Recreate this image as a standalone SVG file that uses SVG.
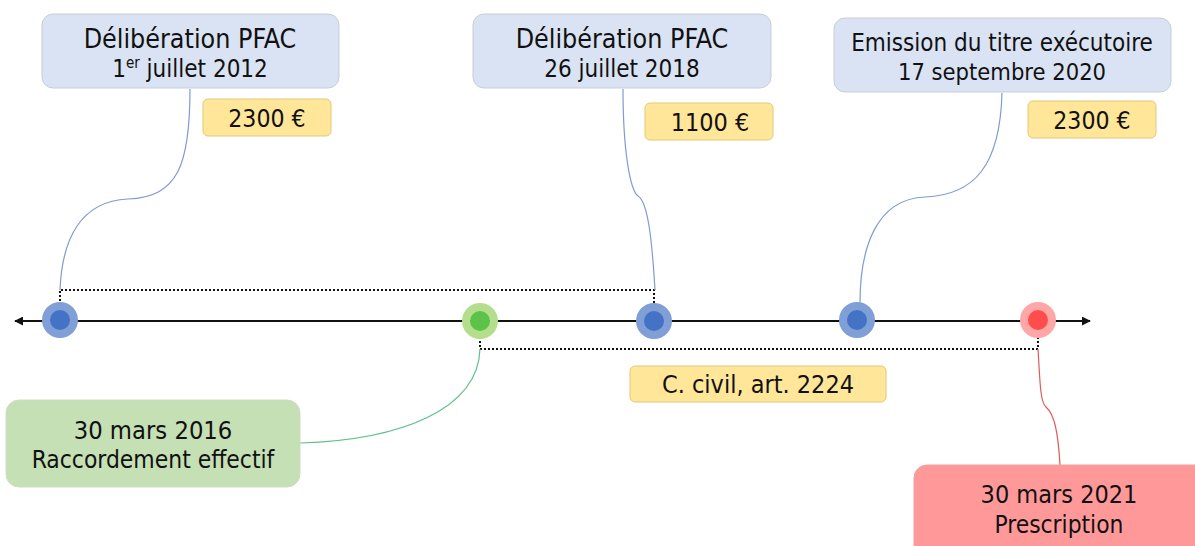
<svg xmlns="http://www.w3.org/2000/svg" width="1195" height="546" viewBox="0 0 1195 546">
<defs>
<style>
.t{font-family:"DejaVu Sans Condensed","DejaVu Sans",sans-serif;fill:#111;text-anchor:middle}
.blue{fill:#dae3f3;stroke:#c8cdd6;stroke-width:1}
.yel{fill:#ffe699;stroke:#e2c97a;stroke-width:1}
.green{fill:#c5e0b4;stroke:#cfdcc6;stroke-width:1}
.red{fill:#ff9999;stroke:#f3a0a0;stroke-width:1}
.cb{fill:none;stroke:#7f9bd0;stroke-width:1.2}
.cg{fill:none;stroke:#5fc08a;stroke-width:1.2}
.cr{fill:none;stroke:#e05a5a;stroke-width:1.2}
.dot{fill:none;stroke:#111;stroke-width:2;stroke-dasharray:2 2}
</style>
<marker id="ah" viewBox="0 0 10 10" refX="9" refY="5" markerWidth="4.5" markerHeight="4.5" orient="auto-start-reverse">
<path d="M0,0L10,5L0,10z" fill="#111"/>
</marker>
</defs>
<rect width="1195" height="546" fill="#fff"/>

<g id="connectors">
<line x1="15" y1="321" x2="1090" y2="321" stroke="#111" stroke-width="2" marker-start="url(#ah)" marker-end="url(#ah)"/>
<path class="dot" d="M60,321V290H654V321"/>
<path class="dot" d="M480,321V349H1038V321"/>
<path class="cb" d="M190,89C190,165 178,197 128,199C80,201 62,240 60,290"/>
<path class="cb" d="M623,89C623,150 630,190 638,196C648,202 652,240 655,290"/>
<path class="cb" d="M1002,93C1000,165 975,195 925,197C875,199 860,250 860,303"/>
<path class="cg" d="M480,349C478,410 400,440 300,443"/>
<path class="cr" d="M1038,349C1040,380 1040,402 1046,407C1054,414 1058,430 1060,465"/>
</g>

<g id="dot1"><circle cx="60" cy="320" r="18" fill="#7f9fd6"/><circle cx="60" cy="320" r="10" fill="#4472c4"/></g>
<g id="dot2"><circle cx="480" cy="321" r="18" fill="#b5de8c"/><circle cx="480" cy="321" r="10" fill="#5bc24a"/></g>
<g id="dot3"><circle cx="654" cy="321" r="18" fill="#7f9fd6"/><circle cx="654" cy="321" r="10" fill="#4472c4"/></g>
<g id="dot4"><circle cx="857" cy="320" r="18" fill="#7f9fd6"/><circle cx="857" cy="320" r="10" fill="#4472c4"/></g>
<g id="dot5"><circle cx="1038" cy="320" r="18" fill="#ffa6a6"/><circle cx="1038" cy="320" r="10" fill="#ff4d4d"/></g>

<g id="box1">
<rect class="blue" x="42" y="14" width="297" height="74" rx="11"/>
<text class="t" x="190" y="48" font-size="26.6">Délibération PFAC</text>
<text class="t" x="190" y="77" font-size="24">1<tspan font-size="15" dy="-9">er</tspan><tspan dy="9"> juillet 2012</tspan></text>
</g>
<g id="amount1">
<rect class="yel" x="203" y="99" width="128" height="37" rx="5"/>
<text class="t" x="267" y="127" font-size="24.6">2300 €</text>
</g>

<g id="box2">
<rect class="blue" x="473" y="14" width="298" height="74" rx="11"/>
<text class="t" x="622" y="48" font-size="26.6">Délibération PFAC</text>
<text class="t" x="622" y="77" font-size="24">26 juillet 2018</text>
</g>
<g id="amount2">
<rect class="yel" x="645" y="103" width="128" height="37" rx="5"/>
<text class="t" x="710" y="131" font-size="25">1100 €</text>
</g>

<g id="box3">
<rect class="blue" x="834" y="18" width="337" height="74" rx="11"/>
<text class="t" x="1002" y="51" font-size="24">Emission du titre exécutoire</text>
<text class="t" x="1002" y="80" font-size="23.5">17 septembre 2020</text>
</g>
<g id="amount3">
<rect class="yel" x="1028" y="101" width="128" height="37" rx="5"/>
<text class="t" x="1092" y="129" font-size="24.6">2300 €</text>
</g>

<g id="article">
<rect class="yel" x="630" y="366" width="256" height="36" rx="5"/>
<text class="t" x="758" y="393" font-size="25">C. civil, art. 2224</text>
</g>

<g id="box-green">
<rect class="green" x="6" y="400" width="294" height="87" rx="13"/>
<text class="t" x="153" y="439" font-size="25.3">30 mars 2016</text>
<text class="t" x="153" y="468" font-size="24.4">Raccordement effectif</text>
</g>

<g id="box-red">
<rect class="red" x="914" y="465" width="300" height="100" rx="13"/>
<text class="t" x="1059" y="503" font-size="25">30 mars 2021</text>
<text class="t" x="1059" y="533" font-size="24.3">Prescription</text>
</g>
</svg>
